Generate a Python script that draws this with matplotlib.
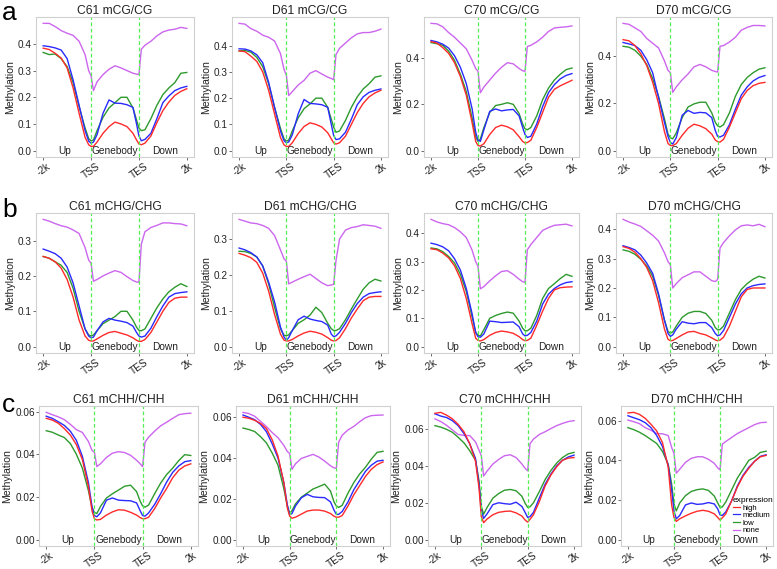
import numpy as np
import matplotlib
matplotlib.use('Agg')
import matplotlib.pyplot as plt
from matplotlib.lines import Line2D

plt.rcParams['font.family'] = ['Liberation Sans', 'DejaVu Sans']

# bin positions: -2k = 0, TSS = 20, TES = 40, 2k = 60
pos = [0, 2.5, 5, 7.5, 10, 12.5, 15, 17.5, 19, 20, 21, 22.5, 25, 27.5, 30,
       32.5, 35, 37.5, 39, 40, 41, 42.5, 45, 47.5, 50, 52.5, 55, 57.5, 60]
tick_pos = [0, 20, 40, 60]
tick_labels = ['-2k', 'TSS', 'TES', '2k']
groups = ['high', 'medium', 'low', 'none']
region_labels = ['Up', 'Genebody', 'Down']
region_pos = [9, 30, 51]

# ---- mCG ----
c61_cg_high = [.384, .379, .365, .347, .31, .235, .14, .05, .022, .016, .016, .032, .065, .09, .107,
               .1, .09, .065, .04, .025, .022, .028, .055, .105, .15, .182, .207, .222, .232]
c61_cg_medium = [.393, .39, .385, .377, .345, .265, .17, .075, .036, .028, .032, .06, .14, .19, .178,
                 .177, .172, .162, .1, .055, .037, .042, .065, .12, .18, .205, .225, .235, .241]
c61_cg_low = [.368, .36, .362, .345, .315, .255, .165, .085, .045, .037, .04, .075, .125, .16, .18,
              .2, .2, .16, .115, .085, .075, .078, .12, .17, .21, .235, .255, .29, .293]
c61_cg_none = [.477, .477, .465, .45, .44, .432, .41, .36, .30, .28, .225, .258, .285, .305, .318,
               .31, .3, .29, .287, .285, .38, .395, .41, .43, .445, .452, .455, .462, .458]

d61_cg_high = [.38, .377, .36, .34, .3, .23, .14, .05, .022, .016, .016, .03, .065, .092, .106,
               .1, .09, .068, .045, .03, .025, .03, .055, .1, .145, .18, .205, .22, .23]
d61_cg_medium = [.388, .387, .38, .365, .335, .26, .165, .075, .038, .03, .033, .06, .14, .195, .18,
                 .178, .175, .165, .1, .058, .042, .045, .07, .12, .175, .205, .222, .23, .235]
d61_cg_low = [.38, .382, .375, .355, .32, .255, .165, .085, .045, .037, .04, .075, .125, .16, .178,
              .2, .2, .165, .12, .09, .07, .075, .115, .165, .205, .235, .255, .28, .285]
d61_cg_none = [.485, .482, .465, .455, .44, .432, .418, .37, .31, .287, .21, .225, .25, .268, .295,
               .305, .292, .28, .275, .27, .366, .39, .41, .43, .445, .45, .45, .455, .463]

c70_cg_high = [.471, .465, .445, .42, .38, .32, .24, .12, .04, .022, .02, .03, .07, .1, .11,
               .103, .09, .06, .04, .033, .035, .045, .1, .165, .23, .265, .28, .292, .304]
c70_cg_medium = [.476, .47, .46, .443, .41, .36, .29, .18, .08, .045, .04, .09, .17, .18, .172,
                 .176, .178, .15, .1, .07, .057, .062, .115, .19, .25, .285, .31, .325, .333]
c70_cg_low = [.467, .462, .455, .43, .39, .33, .255, .14, .06, .04, .05, .1, .165, .195, .2,
              .207, .2, .16, .115, .095, .09, .1, .15, .22, .27, .305, .33, .35, .357]
c70_cg_none = [.55, .548, .535, .51, .49, .465, .44, .39, .355, .343, .25, .275, .305, .335, .36,
               .38, .375, .355, .345, .343, .45, .455, .47, .49, .515, .53, .533, .535, .539]

d70_cg_high = [.47, .465, .445, .41, .36, .29, .2, .08, .03, .022, .021, .03, .065, .095, .112,
               .105, .093, .07, .045, .038, .036, .048, .1, .16, .22, .255, .275, .285, .289]
d70_cg_medium = [.458, .452, .445, .425, .385, .33, .225, .12, .06, .035, .028, .055, .15, .17, .158,
                 .162, .16, .14, .085, .06, .058, .065, .11, .175, .235, .27, .295, .31, .318]
d70_cg_low = [.442, .438, .425, .4, .365, .305, .23, .135, .07, .055, .05, .075, .14, .185, .198,
              .205, .205, .16, .12, .105, .1, .11, .16, .23, .28, .31, .33, .345, .351]
d70_cg_none = [.539, .535, .52, .505, .475, .455, .435, .38, .34, .33, .247, .27, .3, .325, .355,
               .365, .355, .34, .335, .333, .442, .445, .46, .48, .51, .522, .53, .53, .528]

# ---- mCHG ----
c61_chg_high = [.255, .25, .24, .222, .19, .14, .075, .03, .018, .016, .016, .022, .032, .04, .043,
                .038, .033, .025, .018, .015, .015, .02, .04, .07, .1, .125, .137, .14, .14]
c61_chg_medium = [.276, .27, .263, .25, .225, .18, .115, .05, .03, .025, .027, .045, .07, .08, .075,
                  .072, .068, .058, .04, .03, .027, .03, .052, .085, .115, .14, .15, .153, .155]
c61_chg_low = [.255, .25, .24, .23, .21, .165, .1, .05, .033, .03, .033, .045, .065, .075, .085,
               .1, .1, .075, .055, .046, .045, .05, .08, .11, .135, .155, .168, .178, .17]
c61_chg_none = [.36, .355, .348, .342, .338, .33, .32, .28, .245, .236, .185, .19, .2, .208, .215,
                .21, .198, .187, .183, .182, .29, .325, .337, .343, .35, .35, .348, .347, .342]

d61_chg_high = [.26, .255, .248, .235, .205, .155, .09, .035, .018, .016, .016, .02, .03, .038, .043,
                .04, .035, .025, .018, .016, .017, .025, .05, .08, .105, .128, .138, .14, .14]
d61_chg_medium = [.275, .27, .262, .25, .225, .18, .125, .055, .027, .018, .025, .045, .075, .085, .077,
                  .073, .07, .06, .035, .028, .03, .04, .065, .095, .12, .138, .148, .151, .153]
d61_chg_low = [.266, .265, .26, .25, .225, .175, .11, .05, .032, .03, .033, .045, .065, .075, .088,
               .11, .095, .065, .05, .045, .045, .05, .075, .105, .133, .16, .178, .188, .183]
d61_chg_none = [.355, .35, .345, .343, .338, .33, .31, .27, .245, .238, .175, .18, .188, .195, .202,
                .19, .178, .17, .172, .174, .24, .3, .325, .332, .335, .34, .338, .336, .33]

c70_chg_high = [.345, .342, .33, .313, .285, .24, .17, .08, .03, .022, .02, .025, .04, .05, .055,
                .052, .047, .035, .025, .021, .022, .03, .075, .125, .17, .2, .208, .21, .211]
c70_chg_medium = [.365, .36, .352, .338, .31, .27, .205, .115, .05, .035, .033, .045, .09, .088, .085,
                  .086, .087, .07, .045, .038, .04, .05, .09, .15, .185, .205, .218, .226, .229]
c70_chg_low = [.348, .345, .335, .318, .295, .255, .195, .105, .05, .04, .038, .06, .1, .11, .117,
               .122, .118, .09, .065, .056, .056, .065, .11, .17, .205, .222, .24, .255, .248]
c70_chg_none = [.449, .44, .434, .43, .42, .405, .385, .34, .3, .283, .204, .212, .232, .25, .265,
                .268, .255, .238, .229, .227, .342, .36, .385, .41, .42, .428, .43, .432, .426]

d70_chg_high = [.341, .335, .322, .3, .27, .225, .15, .06, .025, .02, .021, .028, .04, .05, .052,
                .045, .04, .03, .023, .02, .022, .032, .07, .12, .17, .195, .2, .2, .2]
d70_chg_medium = [.344, .338, .33, .312, .285, .25, .18, .09, .045, .035, .04, .06, .085, .08, .078,
                  .082, .082, .065, .045, .037, .04, .055, .1, .145, .18, .2, .208, .212, .214]
d70_chg_low = [.33, .325, .315, .298, .275, .24, .175, .09, .052, .046, .05, .07, .1, .114, .12,
               .12, .113, .09, .065, .057, .058, .07, .115, .16, .195, .215, .23, .24, .234]
d70_chg_none = [.434, .425, .418, .41, .395, .38, .36, .32, .29, .279, .2, .215, .235, .245, .255,
                .255, .24, .225, .222, .229, .336, .355, .378, .398, .412, .415, .412, .417, .409]

# ---- mCHH ----
c61_chh_high = [.0568, .056, .0545, .052, .049, .0445, .0375, .025, .0135, .0098, .0092, .0095, .0115, .013, .014,
                .0138, .0128, .0115, .0103, .0098, .0098, .0105, .0145, .0195, .024, .029, .0325, .0345, .0355]
c61_chh_medium = [.0578, .0568, .0552, .0535, .0508, .0465, .039, .0268, .0155, .0113, .0107, .0125, .0185, .0195, .0185,
                  .0183, .0182, .0172, .0135, .0113, .011, .0125, .0165, .0215, .027, .0315, .0345, .0365, .037]
c61_chh_low = [.051, .0503, .049, .0478, .045, .04, .0335, .023, .015, .0128, .0122, .0155, .0195, .0215, .0232,
               .025, .0255, .0225, .018, .0158, .0152, .0162, .0215, .0265, .0305, .0335, .037, .0398, .0394]
c61_chh_none = [.0596, .0585, .0575, .0562, .054, .0515, .0502, .046, .0418, .0409, .0342, .0355, .0385, .0405, .0412,
                .0408, .0395, .0372, .0355, .0342, .0456, .048, .0508, .0533, .055, .0568, .0585, .059, .0592]

d61_chh_high = [.06, .0595, .0585, .057, .0545, .049, .041, .028, .0155, .0115, .0105, .011, .0125, .014, .0145,
                .0145, .014, .0128, .0115, .011, .011, .0118, .0165, .022, .0265, .031, .0345, .0368, .0381]
d61_chh_medium = [.0611, .06, .0588, .0565, .053, .047, .04, .028, .017, .0122, .0128, .0165, .0205, .0222, .021,
                  .0207, .0206, .0185, .0145, .0124, .0124, .0138, .0185, .0245, .029, .0335, .0365, .0385, .0389]
d61_chh_low = [.0547, .054, .053, .0505, .0475, .0425, .0365, .025, .0165, .013, .0142, .0175, .0208, .0228, .0248,
               .026, .0272, .0238, .0185, .0165, .0158, .0168, .0228, .028, .0322, .0355, .0395, .0428, .0433]
d61_chh_none = [.0624, .0618, .0605, .058, .0555, .0525, .05, .0462, .0432, .0422, .0345, .0372, .0398, .0408, .0418,
                .0405, .0385, .0362, .0352, .0349, .0478, .0512, .0538, .0555, .0578, .0598, .0608, .061, .0611]

c70_chh_high = [.0685, .069, .0675, .0655, .0625, .0585, .052, .0425, .028, .0125, .0092, .0112, .0135, .0148, .0153,
                .0155, .0145, .0128, .0105, .0095, .011, .0135, .0205, .029, .035, .0395, .043, .0442, .0445]
c70_chh_medium = [.0682, .067, .0662, .0645, .0618, .0575, .052, .044, .03, .016, .0115, .014, .019, .02, .0195,
                  .0192, .0203, .018, .0145, .012, .0125, .0148, .0225, .03, .0355, .04, .043, .0448, .0458]
c70_chh_low = [.0618, .061, .0598, .0582, .0555, .0525, .0482, .043, .032, .018, .0138, .0175, .0225, .025, .0268,
               .0272, .0265, .0235, .0195, .0175, .0178, .02, .026, .0325, .0375, .0415, .0445, .0465, .0473]
c70_chh_none = [.0655, .064, .062, .0595, .057, .0565, .0564, .053, .0485, .0455, .0345, .0372, .041, .0435, .0455,
                .046, .0445, .041, .0385, .0373, .052, .0545, .057, .0585, .0602, .0618, .063, .064, .0645]

d70_chh_high = [.0639, .0642, .0632, .0612, .0582, .0548, .049, .0365, .0175, .0112, .0092, .0105, .012, .0133, .0143,
                .0148, .0143, .013, .0112, .0099, .011, .013, .0195, .0265, .032, .036, .0395, .0418, .0425]
d70_chh_medium = [.0625, .0615, .0605, .059, .0565, .0525, .047, .0375, .025, .0145, .0105, .0122, .0175, .0185, .0178,
                  .018, .0187, .018, .0155, .0125, .0122, .014, .0195, .027, .0325, .0365, .0395, .042, .0428]
d70_chh_low = [.0565, .0555, .0542, .0525, .0505, .0485, .0445, .038, .028, .018, .0145, .0185, .0222, .0243, .0252,
               .0256, .0248, .022, .0185, .0163, .0165, .019, .025, .031, .0355, .04, .0415, .044, .0446]
d70_chh_none = [.0603, .0595, .0585, .0565, .0552, .0535, .0534, .0525, .0465, .0435, .0335, .0355, .039, .041, .0418,
                .0418, .0405, .0385, .0362, .0352, .0482, .0495, .0515, .0535, .055, .0565, .058, .059, .0592]

panels = [
    [('C61 mCG/CG', [c61_cg_high, c61_cg_medium, c61_cg_low, c61_cg_none], [0, .1, .2, .3, .4], '%.1f'),
     ('D61 mCG/CG', [d61_cg_high, d61_cg_medium, d61_cg_low, d61_cg_none], [0, .1, .2, .3, .4], '%.1f'),
     ('C70 mCG/CG', [c70_cg_high, c70_cg_medium, c70_cg_low, c70_cg_none], [0, .2, .4], '%.1f'),
     ('D70 mCG/CG', [d70_cg_high, d70_cg_medium, d70_cg_low, d70_cg_none], [0, .2, .4], '%.1f')],
    [('C61 mCHG/CHG', [c61_chg_high, c61_chg_medium, c61_chg_low, c61_chg_none], [0, .1, .2, .3], '%.1f'),
     ('D61 mCHG/CHG', [d61_chg_high, d61_chg_medium, d61_chg_low, d61_chg_none], [0, .1, .2, .3], '%.1f'),
     ('C70 mCHG/CHG', [c70_chg_high, c70_chg_medium, c70_chg_low, c70_chg_none], [0, .1, .2, .3, .4], '%.1f'),
     ('D70 mCHG/CHG', [d70_chg_high, d70_chg_medium, d70_chg_low, d70_chg_none], [0, .1, .2, .3, .4], '%.1f')],
    [('C61 mCHH/CHH', [c61_chh_high, c61_chh_medium, c61_chh_low, c61_chh_none], [0, .02, .04, .06], '%.2f'),
     ('D61 mCHH/CHH', [d61_chh_high, d61_chh_medium, d61_chh_low, d61_chh_none], [0, .02, .04, .06], '%.2f'),
     ('C70 mCHH/CHH', [c70_chh_high, c70_chh_medium, c70_chh_low, c70_chh_none], [0, .02, .04, .06], '%.2f'),
     ('D70 mCHH/CHH', [d70_chh_high, d70_chh_medium, d70_chh_low, d70_chh_none], [0, .02, .04, .06], '%.2f')],
]
row_letters = ['a', 'b', 'c']

colors = {'high': '#ff2a2a', 'medium': '#2a2aff', 'low': '#2e9a2e', 'none': '#cc66ee'}

W, H = 777, 569
fig = plt.figure(figsize=(W / 100, H / 100), dpi=100)

row_tops = [17, 213, 406]
letter_base = [20, 217, 412]
row_lefts = [[36, 232, 424, 616], [36, 232, 424, 616], [39, 236, 428, 621]]
row_widths = [[158, 156, 155, 156], [158, 156, 155, 156], [159, 154, 153, 152]]
ax_h = 140
border = '#d0d0d0'
txt = '#222222'

for r, row in enumerate(panels):
    for c, (title, series, yticks, fmt) in enumerate(row):
        left, w = row_lefts[r][c], row_widths[r][c]
        top = row_tops[r]
        ax = fig.add_axes([left / W, 1 - (top + ax_h) / H, w / W, ax_h / H])
        for g in ['none', 'low', 'medium', 'high']:
            ax.plot(pos, series[groups.index(g)], color=colors[g], lw=1.0)
        for xv in [20, 40]:
            ax.axvline(xv, color='#55ee55', lw=0.9, ls=(0, (3, 2)))
        for lab, xp in zip(region_labels, region_pos):
            ax.text(xp, 0, lab, ha='center', va='center', fontsize=7.3, color=txt)
        ymax = max(max(s) for s in series)
        ax.set_ylim(-0.05 * ymax, 1.05 * ymax)
        ax.set_xlim(-3, 63)
        ax.set_yticks(yticks)
        ax.set_yticklabels([fmt % v for v in yticks])
        ax.set_xticks(tick_pos)
        ax.set_xticklabels(tick_labels, rotation=35, ha='center', va='top')
        ax.tick_params(labelsize=7.2, colors='#555555', labelcolor=txt, length=2.2, width=0.6, pad=0.8)
        for sp in ax.spines.values():
            sp.set_color(border)
            sp.set_linewidth(0.8)
        ax.set_title(title, fontsize=8.7, color=txt, pad=2)
        ax.set_ylabel('Methylation', fontsize=7.6, color=txt, labelpad=2)
        if c == 3 and r == 2:
            handles = [Line2D([], [], color=colors[g], lw=0.9) for g in groups]
            leg = ax.legend(handles, groups, title='expression', loc='upper left',
                            bbox_to_anchor=((733 - left) / w, (top + ax_h - 497) / ax_h),
                            frameon=False, fontsize=5.6, title_fontsize=6.0,
                            handlelength=0.9, handletextpad=0.3, labelspacing=0.02,
                            borderpad=0, borderaxespad=0)
            leg._legend_box.align = 'left'
    fig.text(2 / W, 1 - letter_base[r] / H, row_letters[r], fontsize=19,
             ha='left', va='baseline', color='black')

fig.savefig('out.png', dpi=100)
